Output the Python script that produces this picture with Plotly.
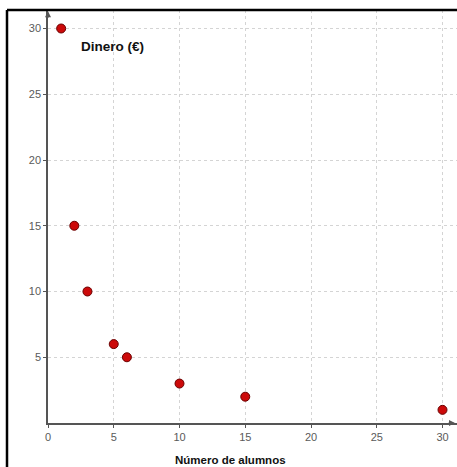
import plotly.graph_objects as go

alumnos = [1, 2, 3, 5, 6, 10, 15, 30]
dinero = [30, 15, 10, 6, 5, 3, 2, 1]
tick_vals = [0, 5, 10, 15, 20, 25, 30]
y_tick_vals = [5, 10, 15, 20, 25, 30]

W, H = 457, 467
L, R, T, B = 48, 0, 10, 44
scale = 13.15
xmax = (W - L - R) / scale
ymax = (H - T - B) / scale

fig = go.Figure()
fig.add_trace(go.Scatter(
    x=alumnos, y=dinero, mode="markers",
    marker=dict(size=9, color="#cc0a0a", line=dict(color="#6a0000", width=1)),
    hoverinfo="x+y", showlegend=False, cliponaxis=False,
))

axis_common = dict(
    showgrid=True, gridcolor="#d4d4d4", griddash="3px,3px", gridwidth=1,
    zeroline=False, showline=True, linecolor="#555555", linewidth=1.5,
    ticks="outside", ticklen=3, tickcolor="#555555",
    tickfont=dict(family="Liberation Sans, Arial, sans-serif", size=11, color="#5a5a5a"),
)

fig.update_xaxes(range=[0, xmax], tickvals=tick_vals, ticktext=[str(v) for v in tick_vals], **axis_common)
fig.update_yaxes(range=[0, ymax], tickvals=y_tick_vals, ticktext=[str(v) for v in y_tick_vals], **axis_common)

fig.add_annotation(x=xmax - 0.15, y=0, xref="x", yref="y", ax=-8, ay=0, text="",
                   showarrow=True, arrowhead=2, arrowsize=1, arrowwidth=1.2, arrowcolor="#555555")
fig.add_annotation(x=0, y=ymax - 0.1, xref="x", yref="y", ax=0, ay=8, text="",
                   showarrow=True, arrowhead=2, arrowsize=1, arrowwidth=1.2, arrowcolor="#555555")

fig.add_annotation(x=2.35, y=28.6, xref="x", yref="y", text="<b>Dinero (€)</b>", showarrow=False,
                   xanchor="left", yanchor="middle",
                   font=dict(family="Liberation Sans, Arial, sans-serif", size=13.5, color="#111111"))
fig.add_annotation(x=0.447, y=0, xref="paper", yref="paper", yshift=-37, text="<b>Número de alumnos</b>",
                   showarrow=False, xanchor="center", yanchor="middle",
                   font=dict(family="Liberation Sans, Arial, sans-serif", size=11.5, color="#111111"))

# frame (top and left edges)
fx = (7 - L) / (W - L - R)
fig.add_shape(type="line", xref="paper", yref="paper", x0=fx, x1=1.02, y0=1, y1=1,
              line=dict(color="black", width=2.5))
fig.add_shape(type="line", xref="paper", yref="paper", x0=fx, x1=fx, y0=1, y1=-0.2,
              line=dict(color="black", width=2.5))

fig.update_layout(
    width=W, height=H,
    margin=dict(l=L, r=R, t=T, b=B),
    paper_bgcolor="white", plot_bgcolor="white",
)

fig.write_html("out.html", config={"displayModeBar": False},
               post_script="document.body.style.margin='0';document.body.style.overflow='hidden';")
